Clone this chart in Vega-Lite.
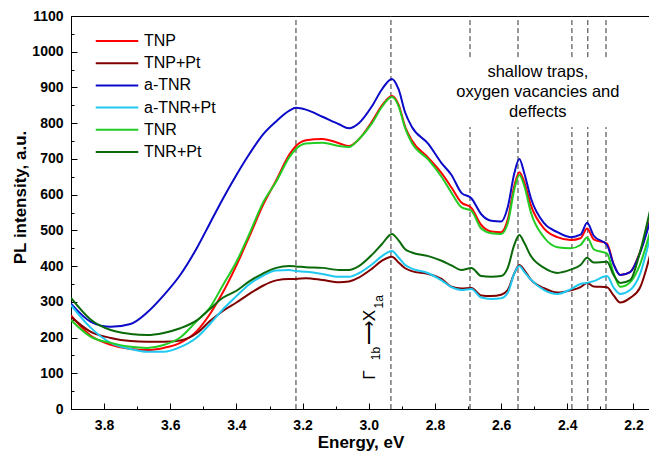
{
  "$schema": "https://vega.github.io/schema/vega-lite/v6.json",
  "width": 579,
  "height": 393,
  "autosize": {"type": "none"},
  "padding": {"left": 71, "top": 16, "right": 0, "bottom": 48},
  "background": "white",
  "config": {
    "view": {"stroke": "#000", "strokeWidth": 1},
    "font": "Liberation Sans",
    "axis": {"domainColor": "#000", "tickColor": "#000", "labelColor": "#000", "titleColor": "#000", "grid": false, "labelFont": "Liberation Sans", "titleFont": "Liberation Sans", "domainWidth": 1, "tickWidth": 1},
    "legend": {"orient": "none", "legendX": 36.5, "legendY": 15.5, "symbolType": "M-2.5,0H2.5", "symbolSize": 289, "symbolStrokeWidth": 2, "labelFontSize": 16, "labelFont": "Liberation Sans", "labelColor": "#000", "labelOffset": 17.5, "rowPadding": 4.2, "padding": 0}
  },
  "datasets": {
    "curves": [
      {"e":3.9,"TNP":262,"TNP+Pt":258,"a-TNR":295,"a-TNR+Pt":291,"TNR":249,"TNR+Pt":311},
      {"e":3.84,"TNP":205,"TNP+Pt":216,"a-TNR":244,"a-TNR+Pt":227,"TNR":202,"TNR+Pt":250},
      {"e":3.78,"TNP":180,"TNP+Pt":199,"a-TNR":230,"a-TNR+Pt":185,"TNR":185,"TNR+Pt":221},
      {"e":3.72,"TNP":168,"TNP+Pt":190,"a-TNR":238,"a-TNR+Pt":168,"TNR":174,"TNR+Pt":210},
      {"e":3.67,"TNP":165,"TNP+Pt":188,"a-TNR":270,"a-TNR+Pt":160,"TNR":171,"TNR+Pt":207},
      {"e":3.62,"TNP":171,"TNP+Pt":188,"a-TNR":318,"a-TNR+Pt":160,"TNR":179,"TNR+Pt":213},
      {"e":3.57,"TNP":185,"TNP+Pt":192,"a-TNR":375,"a-TNR+Pt":173,"TNR":200,"TNR+Pt":226},
      {"e":3.52,"TNP":218,"TNP+Pt":212,"a-TNR":450,"a-TNR+Pt":200,"TNR":246,"TNR+Pt":248},
      {"e":3.48,"TNP":266,"TNP+Pt":246,"a-TNR":520,"a-TNR+Pt":238,"TNR":284,"TNR+Pt":280},
      {"e":3.44,"TNP":328,"TNP+Pt":275,"a-TNR":590,"a-TNR+Pt":280,"TNR":348,"TNR+Pt":312},
      {"e":3.40,"TNP":402,"TNP+Pt":298,"a-TNR":655,"a-TNR+Pt":316,"TNR":412,"TNR+Pt":331},
      {"e":3.36,"TNP":485,"TNP+Pt":323,"a-TNR":715,"a-TNR+Pt":350,"TNR":492,"TNR+Pt":358},
      {"e":3.32,"TNP":570,"TNP+Pt":345,"a-TNR":768,"a-TNR+Pt":373,"TNR":577,"TNR+Pt":379},
      {"e":3.28,"TNP":640,"TNP+Pt":360,"a-TNR":805,"a-TNR+Pt":388,"TNR":636,"TNR+Pt":395},
      {"e":3.24,"TNP":712,"TNP+Pt":364,"a-TNR":835,"a-TNR+Pt":389,"TNR":705,"TNR+Pt":400},
      {"e":3.22,"TNP":736,"TNP+Pt":364,"a-TNR":843,"a-TNR+Pt":386,"TNR":728,"TNR+Pt":399},
      {"e":3.19,"TNP":752,"TNP+Pt":366,"a-TNR":838,"a-TNR+Pt":384,"TNR":743,"TNR+Pt":397},
      {"e":3.14,"TNP":756,"TNP+Pt":361,"a-TNR":818,"a-TNR+Pt":378,"TNR":745,"TNR+Pt":395},
      {"e":3.09,"TNP":744,"TNP+Pt":355,"a-TNR":797,"a-TNR+Pt":370,"TNR":736,"TNR+Pt":389},
      {"e":3.06,"TNP":736,"TNP+Pt":357,"a-TNR":786,"a-TNR+Pt":370,"TNR":733,"TNR+Pt":389},
      {"e":3.03,"TNP":755,"TNP+Pt":368,"a-TNR":800,"a-TNR+Pt":380,"TNR":755,"TNR+Pt":400},
      {"e":2.99,"TNP":805,"TNP+Pt":393,"a-TNR":848,"a-TNR+Pt":405,"TNR":800,"TNR+Pt":432},
      {"e":2.96,"TNP":850,"TNP+Pt":415,"a-TNR":895,"a-TNR+Pt":428,"TNR":846,"TNR+Pt":462},
      {"e":2.93,"TNP":876,"TNP+Pt":426,"a-TNR":924,"a-TNR+Pt":442,"TNR":873,"TNR+Pt":490},
      {"e":2.91,"TNP":852,"TNP+Pt":410,"a-TNR":895,"a-TNR+Pt":424,"TNR":848,"TNR+Pt":472},
      {"e":2.89,"TNP":790,"TNP+Pt":394,"a-TNR":830,"a-TNR+Pt":403,"TNR":786,"TNR+Pt":447},
      {"e":2.87,"TNP":752,"TNP+Pt":386,"a-TNR":790,"a-TNR+Pt":393,"TNR":745,"TNR+Pt":438},
      {"e":2.82,"TNP":703,"TNP+Pt":378,"a-TNR":742,"a-TNR+Pt":380,"TNR":698,"TNR+Pt":428},
      {"e":2.78,"TNP":660,"TNP+Pt":364,"a-TNR":688,"a-TNR+Pt":360,"TNR":650,"TNR+Pt":415},
      {"e":2.75,"TNP":620,"TNP+Pt":342,"a-TNR":655,"a-TNR+Pt":341,"TNR":605,"TNR+Pt":402},
      {"e":2.72,"TNP":578,"TNP+Pt":337,"a-TNR":605,"a-TNR+Pt":333,"TNR":565,"TNR+Pt":389},
      {"e":2.69,"TNP":563,"TNP+Pt":339,"a-TNR":590,"a-TNR+Pt":336,"TNR":555,"TNR+Pt":395},
      {"e":2.66,"TNP":515,"TNP+Pt":318,"a-TNR":545,"a-TNR+Pt":312,"TNR":505,"TNR+Pt":372},
      {"e":2.63,"TNP":497,"TNP+Pt":316,"a-TNR":527,"a-TNR+Pt":308,"TNR":492,"TNR+Pt":370},
      {"e":2.60,"TNP":495,"TNP+Pt":320,"a-TNR":525,"a-TNR+Pt":310,"TNR":490,"TNR+Pt":372},
      {"e":2.58,"TNP":530,"TNP+Pt":333,"a-TNR":565,"a-TNR+Pt":325,"TNR":520,"TNR+Pt":395},
      {"e":2.56,"TNP":625,"TNP+Pt":380,"a-TNR":660,"a-TNR+Pt":380,"TNR":615,"TNR+Pt":460},
      {"e":2.545,"TNP":663,"TNP+Pt":403,"a-TNR":700,"a-TNR+Pt":400,"TNR":655,"TNR+Pt":487},
      {"e":2.53,"TNP":635,"TNP+Pt":389,"a-TNR":660,"a-TNR+Pt":384,"TNR":625,"TNR+Pt":465},
      {"e":2.51,"TNP":570,"TNP+Pt":362,"a-TNR":590,"a-TNR+Pt":362,"TNR":550,"TNR+Pt":428},
      {"e":2.47,"TNP":505,"TNP+Pt":338,"a-TNR":520,"a-TNR+Pt":333,"TNR":480,"TNR+Pt":395},
      {"e":2.43,"TNP":481,"TNP+Pt":326,"a-TNR":495,"a-TNR+Pt":322,"TNR":453,"TNR+Pt":381},
      {"e":2.39,"TNP":473,"TNP+Pt":332,"a-TNR":481,"a-TNR+Pt":335,"TNR":450,"TNR+Pt":390},
      {"e":2.36,"TNP":478,"TNP+Pt":341,"a-TNR":488,"a-TNR+Pt":350,"TNR":459,"TNR+Pt":403},
      {"e":2.34,"TNP":505,"TNP+Pt":353,"a-TNR":521,"a-TNR+Pt":353,"TNR":480,"TNR+Pt":423},
      {"e":2.32,"TNP":475,"TNP+Pt":343,"a-TNR":485,"a-TNR+Pt":358,"TNR":447,"TNR+Pt":410},
      {"e":2.28,"TNP":463,"TNP+Pt":341,"a-TNR":459,"a-TNR+Pt":372,"TNR":435,"TNR+Pt":412},
      {"e":2.26,"TNP":405,"TNP+Pt":318,"a-TNR":405,"a-TNR+Pt":340,"TNR":380,"TNR+Pt":375},
      {"e":2.24,"TNP":375,"TNP+Pt":298,"a-TNR":375,"a-TNR+Pt":322,"TNR":342,"TNR+Pt":353},
      {"e":2.21,"TNP":383,"TNP+Pt":311,"a-TNR":383,"a-TNR+Pt":333,"TNR":355,"TNR+Pt":361},
      {"e":2.18,"TNP":440,"TNP+Pt":340,"a-TNR":437,"a-TNR+Pt":378,"TNR":405,"TNR+Pt":440},
      {"e":2.15,"TNP":530,"TNP+Pt":430,"a-TNR":525,"a-TNR+Pt":480,"TNR":495,"TNR+Pt":555}
    ],
    "vlines": [
      {"e":3.220,"lo":0,"hi":1100},
      {"e":2.933,"lo":0,"hi":1100},
      {"e":2.694,"lo":0,"hi":789},{"e":2.694,"lo":985,"hi":1100},
      {"e":2.549,"lo":0,"hi":789},{"e":2.549,"lo":985,"hi":1100},
      {"e":2.386,"lo":0,"hi":789},{"e":2.386,"lo":985,"hi":1100},
      {"e":2.338,"lo":0,"hi":789},{"e":2.338,"lo":985,"hi":1100},
      {"e":2.283,"lo":0,"hi":789},{"e":2.283,"lo":985,"hi":1100}
    ]
  },
  "resolve": {"axis": {"x": "independent", "y": "independent"}},
  "layer": [
    {
      "data": {"name": "vlines"},
      "mark": {"type": "rule", "strokeDash": [5, 3], "color": "#333", "strokeWidth": 1},
      "encoding": {
        "x": {"field": "e", "type": "quantitative", "scale": {"domain": [2.15, 3.9], "reverse": true, "nice": false, "zero": false},
              "axis": {"orient": "bottom", "values": [3.9, 3.7, 3.5, 3.3, 3.1, 2.9, 2.7, 2.5, 2.3], "labels": false, "tickSize": -3, "domain": false, "title": null}},
        "y": {"field": "lo", "type": "quantitative", "scale": {"domain": [0, 1100], "nice": false},
              "axis": {"orient": "left", "values": [50,150,250,350,450,550,650,750,850,950,1050], "labels": false, "tickSize": -3, "domain": false, "title": null}},
        "y2": {"field": "hi"}
      }
    },
    {
      "data": {"name": "curves"},
      "transform": [{"fold": ["TNP", "TNP+Pt", "a-TNR", "a-TNR+Pt", "TNR", "TNR+Pt"], "as": ["s", "v"]}],
      "mark": {"type": "line", "strokeWidth": 2, "interpolate": "monotone", "clip": true},
      "encoding": {
        "x": {"field": "e", "type": "quantitative",
              "axis": {"orient": "bottom", "values": [3.8, 3.6, 3.4, 3.2, 3.0, 2.8, 2.6, 2.4, 2.2], "format": ".1f", "tickSize": -6, "labelPadding": 15, "labelFontSize": 14, "labelFontWeight": "bold", "title": "Energy, eV", "titleFontSize": 17, "titleFontWeight": "bold", "titleY": 38, "titleBaseline": "alphabetic"}},
        "y": {"field": "v", "type": "quantitative",
              "axis": {"orient": "left", "values": [0,100,200,300,400,500,600,700,800,900,1000,1100], "format": "d", "tickSize": -6, "labelPadding": 14, "labelFontSize": 14, "labelFontWeight": "bold", "title": "PL intensity, a.u.", "titleFontSize": 17, "titleFontWeight": "bold", "titleX": -51, "titleY": 181, "titleAngle": 270, "titleAlign": "center", "titleBaseline": "middle"}},
        "color": {"field": "s", "type": "nominal", "sort": null,
                  "scale": {"domain": ["TNP", "TNP+Pt", "a-TNR", "a-TNR+Pt", "TNR", "TNR+Pt"], "range": ["#ff0000", "#800000", "#0a0ac8", "#1ec8f0", "#22cc22", "#0a6a0a"]},
                  "legend": {"title": null}},
        "order": {"field": "e", "type": "quantitative"}
      }
    },
    {
      "data": {"values": [{"e": 2.489, "v": 943, "t": "shallow traps,\noxygen vacancies and\ndeffects"}]},
      "mark": {"type": "text", "lineBreak": "\n", "fontSize": 16.5, "lineHeight": 20, "align": "center", "baseline": "middle", "font": "Liberation Sans", "color": "#000"},
      "encoding": {
        "x": {"field": "e", "type": "quantitative", "axis": null},
        "y": {"field": "v", "type": "quantitative", "axis": null},
        "text": {"field": "t"}
      }
    },
    {
      "data": {"values": [{"e": 2.996, "v": 95, "t": "Γ"}, {"e": 2.996, "v": 228, "t": "⟶X"}]},
      "mark": {"type": "text", "angle": 270, "fontSize": 17, "align": "center", "baseline": "middle", "font": "Liberation Sans", "color": "#000"},
      "encoding": {
        "x": {"field": "e", "type": "quantitative", "axis": null},
        "y": {"field": "v", "type": "quantitative", "axis": null},
        "text": {"field": "t"}
      }
    },
    {
      "data": {"values": [{"e": 2.977, "v": 155, "t": "1b"}, {"e": 2.969, "v": 300, "t": "1a"}]},
      "mark": {"type": "text", "angle": 270, "fontSize": 12, "align": "center", "baseline": "middle", "font": "Liberation Sans", "color": "#000"},
      "encoding": {
        "x": {"field": "e", "type": "quantitative", "axis": null},
        "y": {"field": "v", "type": "quantitative", "axis": null},
        "text": {"field": "t"}
      }
    }
  ]
}
